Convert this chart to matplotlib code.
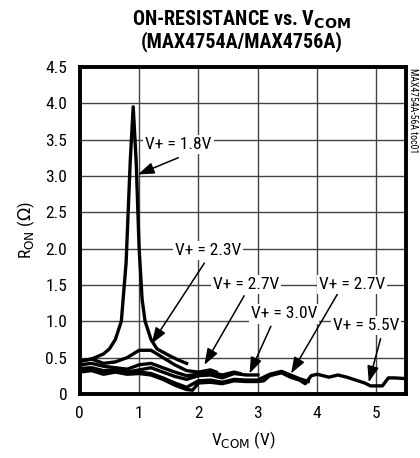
import matplotlib
matplotlib.use("Agg")
import matplotlib.pyplot as plt

fams = ['Liberation Sans Narrow', 'Roboto Condensed', 'Liberation Sans', 'DejaVu Sans']
plt.rcParams['font.family'] = fams
plt.rcParams['mathtext.fontset'] = 'custom'
plt.rcParams['mathtext.rm'] = 'Liberation Sans Narrow'
plt.rcParams['mathtext.bf'] = 'Liberation Sans Narrow:bold'

# V+ = 1.8V
x18 = [0, 0.2, 0.4, 0.5, 0.6, 0.7, 0.78, 0.85, 0.9, 0.95, 1.0, 1.05, 1.1, 1.2, 1.3, 1.5, 1.65, 1.8]
y18 = [0.45, 0.48, 0.55, 0.62, 0.75, 1.0, 1.8, 3.2, 3.95, 3.2, 2.0, 1.3, 1.0, 0.75, 0.62, 0.53, 0.47, 0.42]
# V+ = 2.3V
x23 = [0, 0.2, 0.4, 0.6, 0.8, 1.0, 1.2, 1.4, 1.6, 1.8, 2.0, 2.2, 2.3]
y23 = [0.45, 0.48, 0.42, 0.44, 0.50, 0.60, 0.60, 0.50, 0.40, 0.32, 0.30, 0.33, 0.30]
# V+ = 2.7V
x27 = [0, 0.2, 0.4, 0.6, 0.8, 1.0, 1.2, 1.4, 1.6, 1.8, 2.0, 2.2, 2.4, 2.6, 2.7]
y27 = [0.40, 0.42, 0.38, 0.36, 0.34, 0.40, 0.42, 0.36, 0.30, 0.25, 0.27, 0.30, 0.26, 0.30, 0.28]
# V+ = 3.0V
x30 = [0, 0.2, 0.4, 0.6, 0.8, 1.0, 1.2, 1.4, 1.6, 1.8, 2.0, 2.2, 2.4, 2.6, 2.8, 3.0]
y30 = [0.35, 0.36, 0.32, 0.33, 0.30, 0.33, 0.36, 0.30, 0.24, 0.20, 0.25, 0.26, 0.22, 0.28, 0.26, 0.26]
# second trace marked V+ = 2.7V on the right
x27b = [0, 0.2, 0.4, 0.6, 0.8, 1.0, 1.2, 1.4, 1.6, 1.8, 2.0, 2.2, 2.4, 2.6, 2.8, 3.0, 3.2, 3.4, 3.55, 3.7, 3.85]
y27b = [0.32, 0.34, 0.29, 0.32, 0.29, 0.30, 0.28, 0.22, 0.15, 0.09, 0.18, 0.19, 0.16, 0.20, 0.19, 0.19, 0.27, 0.31, 0.26, 0.21, 0.17]
# V+ = 5.5V
x55 = [0, 0.2, 0.4, 0.6, 0.8, 1.0, 1.2, 1.4, 1.6, 1.8, 1.9, 2.0, 2.2, 2.4, 2.6, 2.8, 3.0, 3.1, 3.2, 3.4, 3.55,
       3.7, 3.8, 3.9, 4.0, 4.2, 4.35, 4.5, 4.8, 4.9, 5.1, 5.2, 5.3, 5.5]
y55 = [0.30, 0.32, 0.27, 0.30, 0.27, 0.28, 0.26, 0.20, 0.12, 0.06, 0.05, 0.15, 0.16, 0.14, 0.18, 0.17, 0.17, 0.18,
       0.25, 0.29, 0.23, 0.19, 0.14, 0.25, 0.27, 0.23, 0.26, 0.23, 0.15, 0.11, 0.11, 0.22, 0.22, 0.21]

xticks = [0, 1, 2, 3, 4, 5]
yticks = [0, 0.5, 1.0, 1.5, 2.0, 2.5, 3.0, 3.5, 4.0, 4.5]
ylabels = ['0', '0.5', '1.0', '1.5', '2.0', '2.5', '3.0', '3.5', '4.0', '4.5']

# label text, text pos, arrow start, arrow tip
notes = [
    ('V+ = 1.8V', (1.66, 3.43), (1.66, 3.25), (0.98, 3.02)),
    ('V+ = 2.3V', (2.16, 1.97), (2.10, 1.80), (1.21, 0.69)),
    ('V+ = 2.7V', (2.80, 1.51), (2.77, 1.35), (2.10, 0.40)),
    ('V+ = 3.0V', (3.44, 1.10), (3.22, 0.93), (2.86, 0.28)),
    ('V+ = 2.7V', (4.59, 1.51), (4.34, 1.37), (3.56, 0.28)),
    ('V+ = 5.5V', (4.82, 0.94), (5.07, 0.76), (4.87, 0.16)),
]

fig = plt.figure(figsize=(4.2, 4.58), dpi=100)
ax = fig.add_axes([0.19, 0.14, 0.777, 0.714])

for xs, ys in [(x18, y18), (x23, y23), (x27, y27), (x30, y30), (x27b, y27b), (x55, y55)]:
    ax.plot(xs, ys, color='black', lw=2.4, solid_joinstyle='round')

ax.set_xlim(0, 5.5)
ax.set_ylim(0, 4.5)
ax.set_xticks(xticks)
ax.set_yticks(yticks)
ax.set_yticklabels(ylabels)
ax.tick_params(length=0, labelsize=12.5, pad=9)
ax.grid(True, color='#444444', lw=1)
ax.set_axisbelow(True)
for s in ax.spines.values():
    s.set_linewidth(2.8)

for txt, tpos, apos, tip in notes:
    ax.annotate('', xy=tip, xytext=apos,
                arrowprops=dict(arrowstyle='-|>,head_length=0.7,head_width=0.25', color='black',
                                lw=1.1, mutation_scale=14, shrinkA=0, shrinkB=0))
    ax.text(tpos[0], tpos[1], txt, ha='center', va='center', fontsize=12.5,
            bbox=dict(facecolor='white', edgecolor='none', pad=1.5))

ax.set_xlabel(r'V$_{\mathrm{COM}}$ (V)', fontsize=12.5, labelpad=6)
ax.set_ylabel(r'R$_{\mathrm{ON}}$ ($\Omega$)', fontsize=12.5, labelpad=6)

fig.text(0.575, 0.956, r'ON-RESISTANCE vs. V$_{\mathbf{COM}}$', ha='center', va='center', fontsize=14.5, fontweight='bold')
fig.text(0.575, 0.910, '(MAX4754A/MAX4756A)', ha='center', va='center', fontsize=14.5, fontweight='bold')
fig.text(0.983, 0.852, 'MAX4754A-56A toc01', rotation=270, ha='center', va='top', fontsize=7)

fig.savefig('out.png')
